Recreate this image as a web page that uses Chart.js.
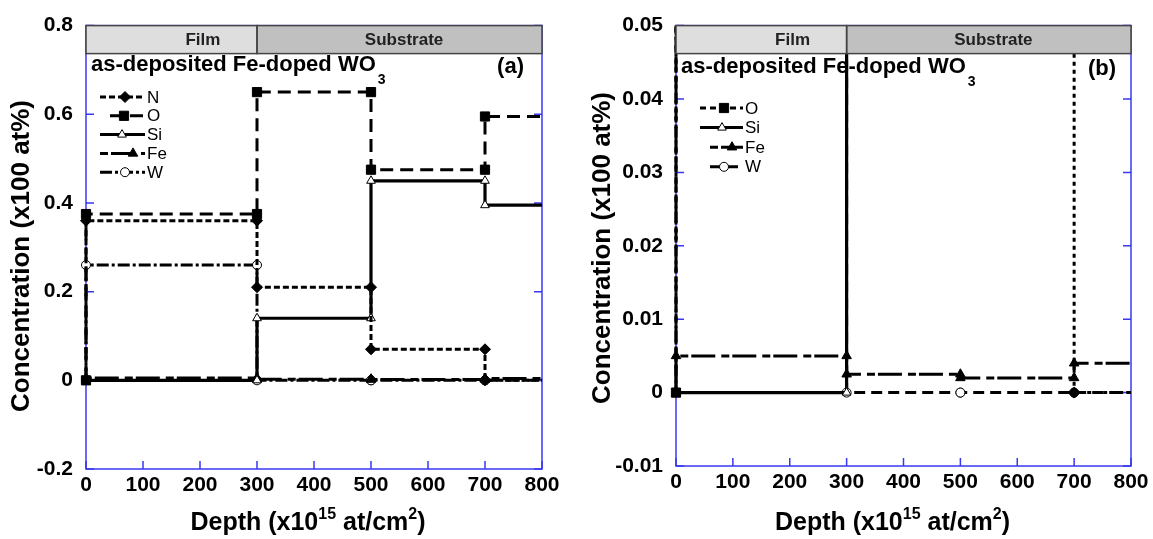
<!DOCTYPE html>
<html>
<head>
<meta charset="utf-8">
<script src="https://cdn.jsdelivr.net/npm/chart.js@4.4.1/dist/chart.umd.min.js"></script>
<style>
  body { margin: 0; background: #fff; }
  #left, #right { position: absolute; top: 0; }
  #left { left: 0; }
  #right { left: 576px; }
</style>
</head>
<body>
<canvas id="left" width="576" height="539"></canvas>
<canvas id="right" width="577" height="539"></canvas>
<script>
// layer boundaries (x10^15 at/cm2) and concentration in each layer (x100 at%)
const depthEdges = [0, 300, 500, 700, 800];
const nValues  = [0.36, 0.21, 0.07, 0];
const oValues  = [0.375, 0.65, 0.475, 0.595];
const siValues = [0, 0.14, 0.45, 0.395];
const feValues = [0.005, 0.0025, 0.002, 0.004];
const wValues  = [0.26, 0, 0, 0];

const xTicks = [0, 100, 200, 300, 400, 500, 600, 700, 800];
const yTicksA = [-0.2, 0, 0.2, 0.4, 0.6, 0.8];
const yTicksB = [-0.01, 0, 0.01, 0.02, 0.03, 0.04, 0.05];

const FONT = '"Liberation Sans", Arial, sans-serif';
const BLUE = '#3838f0';

const series = [
  { label: 'O',  values: oValues,  dash: [13, 7],        style: 'rect',     fill: '#000', r: 6.5, width: 3 },
  { label: 'N',  values: nValues,  dash: [6, 3],         style: 'rectRot',  fill: '#000', r: 5.5, width: 3 },
  { label: 'Si', values: siValues, dash: [],             style: 'triangle', fill: '#fff', r: 5,   width: 3.2 },
  { label: 'Fe', values: feValues, dash: [8, 3, 24, 6],  style: 'triangle', fill: '#000', r: 5.5, width: 3 },
  { label: 'W',  values: wValues,  dash: [12, 3, 3, 3],  style: 'circle',   fill: '#fff', r: 4.5, width: 3 }
];

function stepPoints(vals) {
  const pts = [{ x: depthEdges[0], y: 0 }];
  vals.forEach((v, i) => {
    pts.push({ x: depthEdges[i], y: v });
    pts.push({ x: depthEdges[i + 1], y: v });
  });
  return pts;
}

function marker(ctx, style, x, y, r, fill) {
  ctx.save();
  ctx.setLineDash([]);
  ctx.beginPath();
  if (style === 'rect') {
    const s = r * Math.SQRT1_2;
    ctx.rect(x - s, y - s, 2 * s, 2 * s);
  } else if (style === 'rectRot') {
    ctx.moveTo(x, y - r); ctx.lineTo(x + r, y); ctx.lineTo(x, y + r); ctx.lineTo(x - r, y); ctx.closePath();
  } else if (style === 'triangle') {
    let a = 0;
    ctx.moveTo(x + Math.sin(a) * r, y - Math.cos(a) * r);
    a += Math.PI * 2 / 3; ctx.lineTo(x + Math.sin(a) * r, y - Math.cos(a) * r);
    a += Math.PI * 2 / 3; ctx.lineTo(x + Math.sin(a) * r, y - Math.cos(a) * r);
    ctx.closePath();
  } else {
    ctx.arc(x, y, r, 0, Math.PI * 2);
  }
  ctx.fillStyle = fill; ctx.fill();
  ctx.lineWidth = 1; ctx.strokeStyle = '#000'; ctx.stroke();
  ctx.restore();
}

function makeChart(id, cfg) {
  const dashOf = s => cfg.dash[s.label] || s.dash;
  const datasets = series.map(s => {
    const pts = stepPoints(s.values);
    return {
      label: s.label,
      data: pts,
      showLine: true,
      borderColor: '#000',
      borderWidth: s.width,
      borderDash: dashOf(s),
      pointStyle: s.style,
      pointBackgroundColor: s.fill,
      pointBorderColor: '#000',
      pointBorderWidth: 1,
      pointRadius: pts.map((p, i) => (i === pts.length - 1 || (i === 0 && s.label !== 'O')) ? 0 : s.r),
      clip: { left: 8, top: 0, right: 0, bottom: 8 }
    };
  });

  const decor = {
    id: 'decor' + id,
    beforeDatasetsDraw(chart) {
      const { ctx, chartArea: a, scales: { x, y } } = chart;
      ctx.save();
      ctx.strokeStyle = BLUE; ctx.lineWidth = 1.5;
      ctx.strokeRect(a.left, a.top, a.right - a.left, a.bottom - a.top);
      ctx.beginPath();
      y.ticks.forEach(t => {
        const py = y.getPixelForValue(t.value);
        ctx.moveTo(a.left, py); ctx.lineTo(a.left + 8, py);
        ctx.moveTo(a.right, py); ctx.lineTo(a.right - 8, py);
      });
      x.ticks.forEach(t => {
        const px = x.getPixelForValue(t.value);
        ctx.moveTo(px, a.bottom); ctx.lineTo(px, a.bottom - 8);
      });
      ctx.stroke();
      // in-plot caption
      ctx.fillStyle = '#000';
      ctx.textBaseline = 'alphabetic';
      ctx.textAlign = 'left';
      ctx.font = 'bold 22px ' + FONT;
      const cap = 'as-deposited Fe-doped WO';
      ctx.fillText(cap, a.left + cfg.capDx, cfg.capY);
      const w = ctx.measureText(cap).width;
      ctx.font = 'bold 14px ' + FONT;
      ctx.fillText('3', a.left + cfg.capDx + w + 2, cfg.capY + 13);
      ctx.font = 'bold 22px ' + FONT;
      ctx.textAlign = 'right';
      ctx.fillText(cfg.tag, a.right - cfg.tagDx, cfg.capY + 2);
      ctx.restore();
    },
    afterDatasetsDraw(chart) {
      const { ctx, chartArea: a, scales: { x } } = chart;
      ctx.save();
      // Film / Substrate band
      const split = x.getPixelForValue(depthEdges[1]);
      const h = 28;
      ctx.fillStyle = '#dedede';
      ctx.fillRect(a.left, a.top, split - a.left, h);
      ctx.fillStyle = '#c0c0c0';
      ctx.fillRect(split, a.top, a.right - split, h);
      ctx.strokeStyle = '#444'; ctx.lineWidth = 1.5;
      ctx.strokeRect(a.left, a.top, split - a.left, h);
      ctx.strokeRect(split, a.top, a.right - split, h);
      ctx.fillStyle = '#222';
      ctx.font = 'bold 17px ' + FONT;
      ctx.textAlign = 'center'; ctx.textBaseline = 'middle';
      ctx.fillText('Film', x.getPixelForValue(205), a.top + h / 2 + 1);
      ctx.fillText('Substrate', x.getPixelForValue(558), a.top + h / 2 + 1);

      // legend
      ctx.font = '17px ' + FONT;
      ctx.textAlign = 'left';
      cfg.legend.forEach((e, i) => {
        const s = series.find(q => q.label === e.label);
        const ly = cfg.legY + i * cfg.legStep;
        ctx.strokeStyle = '#000';
        ctx.lineWidth = 3;
        ctx.setLineDash(dashOf(s));
        ctx.beginPath();
        ctx.moveTo(e.x0, ly); ctx.lineTo(cfg.legX1, ly);
        ctx.stroke();
        ctx.setLineDash([]);
        marker(ctx, s.style, e.mx, ly, s.r, s.fill);
        ctx.fillStyle = '#000';
        ctx.fillText(e.label, cfg.legX1 + 2, ly + 1);
      });

      // axis titles
      ctx.fillStyle = '#000';
      ctx.font = 'bold 26px ' + FONT;
      ctx.textBaseline = 'alphabetic';
      ctx.save();
      ctx.translate(cfg.yTitleX, cfg.yTitleY);
      ctx.rotate(-Math.PI / 2);
      ctx.textAlign = 'center';
      ctx.fillText('Concentration (x100 at%)', 0, 0);
      ctx.restore();

      const parts = [['Depth (x10', 0], ['15', 1], [' at/cm', 0], ['2', 1], [')', 0]];
      const fonts = ['bold 25px ' + FONT, 'bold 16px ' + FONT];
      let total = 0;
      parts.forEach(p => { ctx.font = fonts[p[1]]; total += ctx.measureText(p[0]).width; });
      let px = (a.left + a.right) / 2 + cfg.xTitleDx - total / 2;
      ctx.textAlign = 'left';
      parts.forEach(p => {
        ctx.font = fonts[p[1]];
        ctx.fillText(p[0], px, p[1] ? 519 : 530);
        px += ctx.measureText(p[0]).width;
      });
      ctx.restore();
    }
  };

  return new Chart(document.getElementById(id), {
    type: 'scatter',
    data: { datasets },
    options: {
      responsive: false,
      animation: false,
      layout: { padding: cfg.padding },
      plugins: { legend: { display: false }, tooltip: { enabled: false } },
      scales: {
        x: {
          type: 'linear', min: 0, max: 800,
          afterBuildTicks: s => { s.ticks = xTicks.map(v => ({ value: v })); },
          afterFit: s => { s.height = cfg.xH; },
          grid: { display: false, drawTicks: false },
          border: { display: false },
          ticks: { color: '#000', padding: 4, font: { family: FONT, size: 21, weight: 'bold' }, maxRotation: 0 }
        },
        y: {
          type: 'linear', min: cfg.yTicks[0], max: cfg.yTicks[cfg.yTicks.length - 1],
          afterBuildTicks: s => { s.ticks = cfg.yTicks.map(v => ({ value: v })); },
          afterFit: s => { s.width = cfg.yW; },
          grid: { display: false, drawTicks: false },
          border: { display: false },
          ticks: {
            color: '#000', padding: 13, font: { family: FONT, size: 21, weight: 'bold' },
            callback: v => String(+v.toFixed(3))
          }
        }
      }
    },
    plugins: [decor]
  });
}

makeChart('left', {
  yTicks: yTicksA, tag: '(a)', tagDx: 18,
  dash: {},
  padding: { left: 0, right: 34, top: 18, bottom: 0 }, yW: 86, xH: 70,
  capDx: 5, capY: 71,
  legend: [
    { label: 'N', x0: 100, mx: 125 }, { label: 'O', x0: 110, mx: 124 },
    { label: 'Si', x0: 100, mx: 122 }, { label: 'Fe', x0: 100, mx: 133 },
    { label: 'W', x0: 100, mx: 125 }
  ],
  legY: 97, legStep: 18.8, legX1: 145,
  yTitleX: 29, yTitleY: 256, xTitleDx: -6
});

makeChart('right', {
  yTicks: yTicksB, tag: '(b)', tagDx: 15,
  dash: { O: [6, 4], N: [4, 4], W: [11, 6] },
  padding: { left: 0, right: 22, top: 13, bottom: 0 }, yW: 100, xH: 73,
  capDx: 5, capY: 73,
  legend: [
    { label: 'O', x0: 124, mx: 148 }, { label: 'Si', x0: 124, mx: 146 },
    { label: 'Fe', x0: 134, mx: 156 }, { label: 'W', x0: 134, mx: 148 }
  ],
  legY: 108, legStep: 19.6, legX1: 167,
  yTitleX: 34, yTitleY: 248, xTitleDx: -11
});
</script>
</body>
</html>
